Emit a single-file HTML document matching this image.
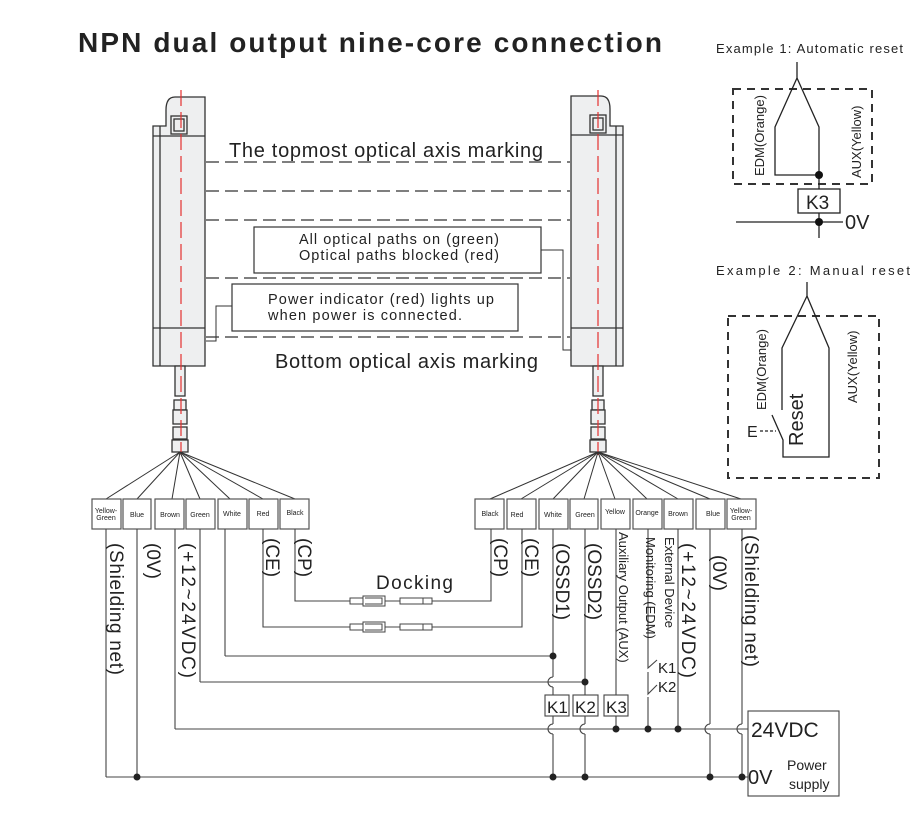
<!DOCTYPE html>
<html><head><meta charset="utf-8"><style>
html,body{margin:0;padding:0;background:#fff}
svg{display:block}
text{font-family:"Liberation Sans",sans-serif;fill:#222}
</style></head><body>
<svg width="924" height="813" viewBox="0 0 924 813" xmlns="http://www.w3.org/2000/svg">
<text x="78" y="52" font-size="28" font-weight="bold" fill="#111" textLength="584" lengthAdjust="spacing">NPN dual output nine-core connection</text>

<g stroke="#333" stroke-width="1.3" fill="#eeeff0">
<path d="M153,126 L153,366 L205,366 L205,97 L175,97 Q166,97 166,110 L166,126 Z"/>
<line x1="160" y1="126" x2="160" y2="366"/>
<line x1="153" y1="136" x2="205" y2="136"/>
<line x1="153" y1="328" x2="205" y2="328"/>
<rect x="171" y="116" width="16" height="18"/>
<rect x="174" y="119" width="10" height="12"/>
<rect x="175" y="366" width="10" height="30"/>
<rect x="174" y="400" width="12" height="10"/>
<rect x="173" y="410" width="14" height="14"/>
<rect x="173" y="427" width="14" height="12"/>
<rect x="172" y="440" width="16" height="12"/>
</g>
<line x1="181" y1="90" x2="181" y2="455" stroke="#e53030" stroke-width="1.2" stroke-dasharray="16,6"/>

<g stroke="#333" stroke-width="1.3" fill="#eeeff0">
<path d="M623,126 L623,366 L571,366 L571,96 L601,96 Q610,96 610,109 L610,126 Z"/>
<line x1="616" y1="126" x2="616" y2="366"/>
<line x1="571" y1="135" x2="623" y2="135"/>
<line x1="571" y1="328" x2="623" y2="328"/>
<rect x="590" y="115" width="16" height="18"/>
<rect x="593" y="118" width="10" height="12"/>
<rect x="593" y="366" width="10" height="30"/>
<rect x="592" y="400" width="12" height="10"/>
<rect x="591" y="410" width="14" height="14"/>
<rect x="591" y="427" width="14" height="12"/>
<rect x="590" y="440" width="16" height="12"/>
</g>
<line x1="598" y1="90" x2="598" y2="455" stroke="#e53030" stroke-width="1.2" stroke-dasharray="16,6"/>

<g stroke="#333" stroke-width="1.2" stroke-dasharray="13,6">
<line x1="206" y1="162" x2="570" y2="162"/>
<line x1="206" y1="191" x2="570" y2="191"/>
<line x1="206" y1="220" x2="570" y2="220"/>
<line x1="206" y1="278" x2="570" y2="278"/>
<line x1="206" y1="337" x2="570" y2="337"/>
</g>
<text x="229" y="157" font-size="20" textLength="314" lengthAdjust="spacing">The topmost optical axis marking</text>
<text x="275" y="368" font-size="20" textLength="263" lengthAdjust="spacing">Bottom optical axis marking</text>
<g fill="#fff" stroke="#333" stroke-width="1.2">
<rect x="254" y="227" width="287" height="46"/>
<rect x="232" y="284" width="286" height="47"/>
</g>
<polyline points="541,250 563,250 563,350 571,350" fill="none" stroke="#333" stroke-width="1"/>
<polyline points="232,306 216,306 216,341 206,341" fill="none" stroke="#333" stroke-width="1"/>
<text x="299" y="244" font-size="14.5" textLength="200" lengthAdjust="spacing">All optical paths on (green)</text>
<text x="299" y="260" font-size="14.5" textLength="200" lengthAdjust="spacing">Optical paths blocked (red)</text>
<text x="268" y="304" font-size="14.5" textLength="226" lengthAdjust="spacing">Power indicator (red) lights up</text>
<text x="268" y="320" font-size="14.5" textLength="194" lengthAdjust="spacing">when power is connected.</text>

<g stroke="#333" stroke-width="1">
<line x1="180" y1="452" x2="106" y2="499"/>
<line x1="180" y1="452" x2="137" y2="499"/>
<line x1="180" y1="452" x2="172" y2="499"/>
<line x1="180" y1="452" x2="200" y2="499"/>
<line x1="180" y1="452" x2="230" y2="499"/>
<line x1="180" y1="452" x2="263" y2="499"/>
<line x1="180" y1="452" x2="295" y2="499"/>
<line x1="598" y1="452" x2="490" y2="499"/>
<line x1="598" y1="452" x2="521" y2="499"/>
<line x1="598" y1="452" x2="553" y2="499"/>
<line x1="598" y1="452" x2="584" y2="499"/>
<line x1="598" y1="452" x2="615" y2="499"/>
<line x1="598" y1="452" x2="647" y2="499"/>
<line x1="598" y1="452" x2="678" y2="499"/>
<line x1="598" y1="452" x2="710" y2="499"/>
<line x1="598" y1="452" x2="741" y2="499"/>
</g>

<g fill="#fff" stroke="#555" stroke-width="1.2">
<rect x="92" y="499" width="29" height="30"/><rect x="123" y="499" width="28" height="30"/>
<rect x="155" y="499" width="29" height="30"/><rect x="186" y="499" width="29" height="30"/>
<rect x="218" y="499" width="29" height="30"/><rect x="249" y="499" width="29" height="30"/>
<rect x="280" y="499" width="29" height="30"/>
<rect x="475" y="499" width="29" height="30"/><rect x="507" y="499" width="29" height="30"/>
<rect x="539" y="499" width="29" height="30"/><rect x="570" y="499" width="28" height="30"/>
<rect x="601" y="499" width="29" height="30"/><rect x="633" y="499" width="29" height="30"/>
<rect x="664" y="499" width="29" height="30"/><rect x="696" y="499" width="29" height="30"/>
<rect x="727" y="499" width="29" height="30"/>
</g>
<g font-size="7" text-anchor="middle">
<text x="106" y="513">Yellow-</text><text x="106" y="520">Green</text>
<text x="137" y="517">Blue</text><text x="170" y="517">Brown</text><text x="200" y="517">Green</text>
<text x="232" y="516">White</text><text x="263" y="516">Red</text><text x="295" y="515">Black</text>
<text x="490" y="516">Black</text><text x="517" y="517">Red</text><text x="553" y="517">White</text>
<text x="585" y="517">Green</text><text x="615" y="514">Yellow</text><text x="647" y="515">Orange</text>
<text x="678" y="516">Brown</text><text x="713" y="516">Blue</text>
<text x="741" y="513">Yellow-</text><text x="741" y="520">Green</text>
</g>

<!-- verticals -->
<g fill="none" stroke="#444" stroke-width="1.1">
<line x1="106" y1="529" x2="106" y2="777"/>
<line x1="137" y1="529" x2="137" y2="777"/>
<line x1="175" y1="529" x2="175" y2="729"/>
<line x1="200" y1="529" x2="200" y2="682"/>
<line x1="225" y1="529" x2="225" y2="656"/>
<polyline points="263,529 263,627 350,627"/>
<polyline points="432,627 522,627 522,529"/>
<polyline points="295,529 295,601 350,601"/>
<polyline points="432,601 491,601 491,529"/>
<line x1="553" y1="529" x2="553" y2="695"/>
<line x1="553" y1="716" x2="553" y2="777"/>
<line x1="585" y1="529" x2="585" y2="695"/>
<line x1="585" y1="716" x2="585" y2="777"/>
<line x1="616" y1="529" x2="616" y2="695"/>
<line x1="616" y1="716" x2="616" y2="729"/>
<polyline points="648,529 648,668 657,660"/>
<polyline points="648,672 648,694 657,685"/>
<line x1="648" y1="697" x2="648" y2="729"/>
<line x1="678" y1="529" x2="678" y2="729"/>
<line x1="710" y1="529" x2="710" y2="777"/>
<line x1="742" y1="529" x2="742" y2="777"/>
</g>
<g stroke="#fff" stroke-width="3">
<line x1="553" y1="677" x2="553" y2="687"/>
<line x1="553" y1="724" x2="553" y2="734"/>
<line x1="585" y1="724" x2="585" y2="734"/>
<line x1="710" y1="724" x2="710" y2="734"/>
<line x1="742" y1="724" x2="742" y2="734"/>
</g>
<g fill="none" stroke="#444" stroke-width="1.1">
<path d="M553,677 a5,5 0 0 0 0,10"/>
<path d="M553,724 a5,5 0 0 0 0,10"/>
<path d="M585,724 a5,5 0 0 0 0,10"/>
<path d="M710,724 a5,5 0 0 0 0,10"/>
<path d="M742,724 a5,5 0 0 0 0,10"/>
<!-- horizontals -->
<line x1="106" y1="777" x2="748" y2="777"/>
<line x1="175" y1="729" x2="748" y2="729"/>
<line x1="200" y1="682" x2="585" y2="682"/>
<line x1="225" y1="656" x2="553" y2="656"/>
</g>
<g fill="#222">
<circle cx="137" cy="777" r="3.5"/>
<circle cx="553" cy="656" r="3.5"/><circle cx="585" cy="682" r="3.5"/>
<circle cx="616" cy="729" r="3.5"/><circle cx="648" cy="729" r="3.5"/><circle cx="678" cy="729" r="3.5"/>
<circle cx="553" cy="777" r="3.5"/><circle cx="585" cy="777" r="3.5"/>
<circle cx="710" cy="777" r="3.5"/><circle cx="742" cy="777" r="3.5"/>
</g>
<g fill="#fff" stroke="#444" stroke-width="1.1">
<rect x="545" y="695" width="24" height="21"/><rect x="573" y="695" width="25" height="21"/>
<rect x="604" y="695" width="24" height="21"/>
<rect x="748" y="711" width="91" height="85"/>
</g>
<g font-size="17"><text x="547" y="713">K1</text><text x="575" y="713">K2</text><text x="606" y="713">K3</text></g>
<text x="658" y="673" font-size="15">K1</text>
<text x="658" y="692" font-size="15">K2</text>
<text x="751" y="737" font-size="21">24VDC</text>
<text x="748" y="784" font-size="20">0V</text>
<text x="787" y="770" font-size="14">Power</text>
<text x="789" y="789" font-size="14">supply</text>

<g fill="#fff" stroke="#444" stroke-width="1">
<rect x="350" y="598" width="13" height="6"/><rect x="363" y="596" width="22" height="10"/>
<path d="M365,598 h17 v6 h-17" fill="none"/>
<rect x="400" y="598" width="32" height="6"/><line x1="423" y1="598" x2="423" y2="604"/>
<rect x="350" y="624" width="13" height="6"/><rect x="363" y="622" width="22" height="10"/>
<path d="M365,624 h17 v6 h-17" fill="none"/>
<rect x="400" y="624" width="32" height="6"/><line x1="423" y1="624" x2="423" y2="630"/>
</g>
<line x1="385" y1="601" x2="400" y2="601" stroke="#444"/>
<line x1="385" y1="627" x2="400" y2="627" stroke="#444"/>
<text x="376" y="589" font-size="19" textLength="77" lengthAdjust="spacing">Docking</text>

<g font-size="19">
<text transform="translate(110,543) rotate(90)" textLength="132" lengthAdjust="spacing">(Shielding net)</text>
<text transform="translate(147,543) rotate(90)">(0V)</text>
<text transform="translate(182,543) rotate(90)" textLength="135" lengthAdjust="spacing">(+12~24VDC)</text>
<text transform="translate(266,538) rotate(90)">(CE)</text>
<text transform="translate(298,538) rotate(90)">(CP)</text>
<text transform="translate(494,538) rotate(90)">(CP)</text>
<text transform="translate(525,538) rotate(90)">(CE)</text>
<text transform="translate(556,543) rotate(90)">(OSSD1)</text>
<text transform="translate(588,543) rotate(90)">(OSSD2)</text>
<text transform="translate(682,543) rotate(90)" textLength="135" lengthAdjust="spacing">(+12~24VDC)</text>
<text transform="translate(713,555) rotate(90)">(0V)</text>
<text transform="translate(745,535) rotate(90)" textLength="132" lengthAdjust="spacing">(Shielding net)</text>
</g>
<g font-size="13">
<text transform="translate(619,532) rotate(90)">Auxiliary Output (AUX)</text>
<text transform="translate(646,537) rotate(90)">Monitoring (EDM)</text>
<text transform="translate(665,537) rotate(90)">External Device</text>
</g>

<text x="716" y="53" font-size="13" textLength="187" lengthAdjust="spacing">Example 1: Automatic reset</text>
<rect x="733" y="89" width="139" height="95" fill="none" stroke="#333" stroke-width="2" stroke-dasharray="8,6"/>
<g fill="none" stroke="#222" stroke-width="1.3">
<polyline points="797,62 797,78 775,127 775,175 819,175"/>
<polyline points="797,78 819,127 819,189"/>
<line x1="819" y1="213" x2="819" y2="238"/>
<line x1="736" y1="222" x2="843" y2="222"/>
</g>
<rect x="798" y="189" width="42" height="24" fill="#fff" stroke="#222" stroke-width="1.3"/>
<text x="806" y="209" font-size="19">K3</text>
<circle cx="819" cy="175" r="4" fill="#111"/><circle cx="819" cy="222" r="4" fill="#111"/>
<text x="845" y="229" font-size="20">0V</text>
<text transform="translate(764,176) rotate(-90)" font-size="13">EDM(Orange)</text>
<text transform="translate(861,178) rotate(-90)" font-size="13">AUX(Yellow)</text>

<text x="716" y="275" font-size="13" textLength="194" lengthAdjust="spacing">Example 2: Manual reset</text>
<rect x="728" y="316" width="151" height="162" fill="none" stroke="#333" stroke-width="2" stroke-dasharray="8,6"/>
<g fill="none" stroke="#222" stroke-width="1.3">
<polyline points="807,282 807,296 782,348 782,410"/>
<polyline points="807,296 829,348 829,457 783,457 783,440 772,415"/>
<line x1="760" y1="431" x2="776" y2="431" stroke-dasharray="3,2"/>
</g>
<text x="747" y="437" font-size="16">E</text>
<text transform="translate(803,446) rotate(-90)" font-size="20">Reset</text>
<text transform="translate(766,410) rotate(-90)" font-size="13">EDM(Orange)</text>
<text transform="translate(857,403) rotate(-90)" font-size="13">AUX(Yellow)</text>
</svg>
</body></html>
